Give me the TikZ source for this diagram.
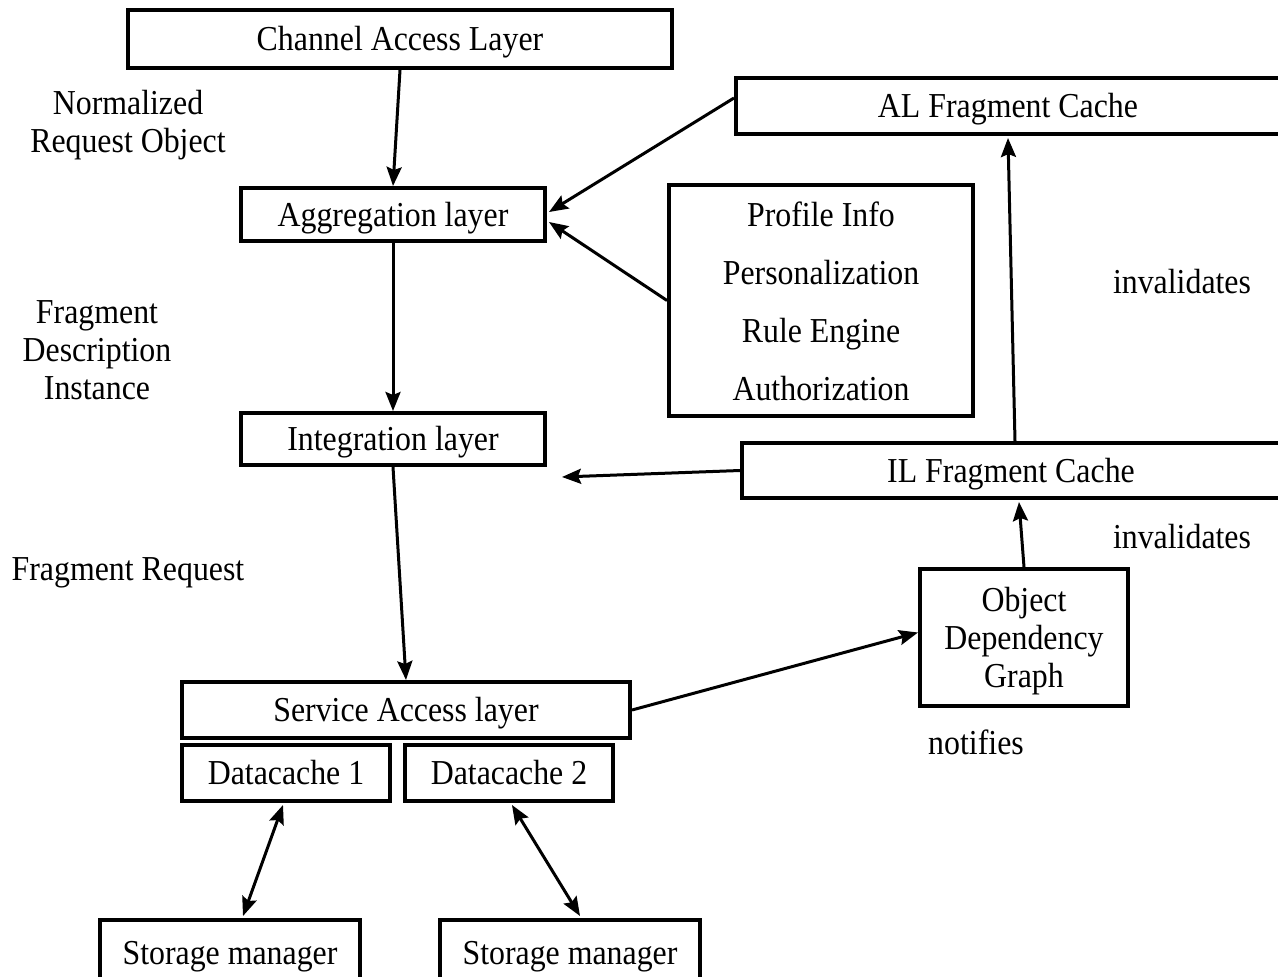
\documentclass[tikz,border=0pt]{standalone}
\usepackage{fontspec}
\setmainfont{Liberation Serif}[FakeStretch=0.91]
\usetikzlibrary{arrows.meta,calc}

\tikzset{
  box/.style={draw, line width=4pt, rectangle, inner sep=0pt, align=center},
  one/.style={text height=30pt, text depth=7pt},
  lbl/.style={inner sep=0pt, align=center},
  tip/.tip={Stealth[length=19pt,width=15pt,inset=3pt]},
  conn/.style={line width=3pt, -tip},
  both/.style={line width=3pt, tip-tip},
}

\begin{document}
\begin{tikzpicture}[x=1pt, y=-1pt, font=\fontsize{35}{38}\selectfont]
  \clip (0,0) rectangle (1278,977);
  \fill[white] (0,0) rectangle (1278,977);

  % left column of layers
  \node[box, one, minimum width=544pt, minimum height=58pt] (chan) at (400,39) {Channel Access Layer};
  \node[box, one, minimum width=304pt, minimum height=53pt] (agg) at (393,214.5) {Aggregation layer};
  \node[box, one, minimum width=304pt, minimum height=52pt] (integ) at (393,439) {Integration layer};
  \node[box, one, minimum width=448pt, minimum height=56pt] (sal) at (406,710) {Service Access layer};
  \node[box, one, minimum width=208pt, minimum height=56pt] (dc1) at (286,773) {Datacache 1};
  \node[box, one, minimum width=208pt, minimum height=56pt] (dc2) at (509,773) {Datacache 2};
  \node[box, one, minimum width=260pt, minimum height=66pt] (sm1) at (230,953) {Storage manager};
  \node[box, one, minimum width=260pt, minimum height=66pt] (sm2) at (570,953) {Storage manager};

  % flow labels
  \node[lbl] (lnorm) at (128,125.5) {Normalized\\Request Object};
  \node[lbl] (lfdi) at (97,350) {Fragment\\Description\\Instance};
  \node[lbl, one] (lreq) at (128,569) {Fragment Request};

  % caches and services on the right
  \node[box, one, minimum width=544pt, minimum height=56pt] (al) at (1008,106) {AL Fragment Cache};
  \node[box, minimum width=304pt, minimum height=231pt, font=\fontsize{35}{58}\selectfont] (prof) at (821,300.5)
    {\rule{0pt}{26pt}Profile Info\\Personalization\\Rule Engine\\Authorization};
  \node[box, one, minimum width=538pt, minimum height=55pt] (il) at (1011,470.5) {IL Fragment Cache};
  \node[box, minimum width=208pt, minimum height=137pt] (odg) at (1024,637.5)
    {\rule{0pt}{31pt}Object\\Dependency\\Graph};

  \node[lbl, one] (inv1) at (1182,282) {invalidates};
  \node[lbl, one] (inv2) at (1182,537) {invalidates};
  \node[lbl, one] (notif) at (976,743) {notifies};

  \coordinate (ilend) at (562,477);

  % connectors
  \draw[conn] (chan.south) -- (agg.north);
  \draw[conn] ($(al.west)+(0,-8)$) -- ($(agg.east)+(2,-2.5)$);
  \draw[conn] (prof.west) -- ($(agg.east)+(2,7.5)$);
  \draw[conn] (agg.south) -- (integ.north);
  \draw[conn] (il.west) -- (ilend);
  \draw[conn] (integ.south) -- (sal.north);
  \draw[conn] ($(il.north)+(4,0)$) -- ($(al.south)+(0,2)$);
  \draw[conn] (odg.north) -- ($(il.south)+(8,2)$);
  \draw[conn] (sal.east) -- ($(odg.west)+(0,-5)$);
  \draw[both] ($(dc1.south)+(-3,2)$) -- ($(sm1.north)+(13,-2)$);
  \draw[both] ($(dc2.south)+(3,2)$) -- ($(sm2.north)+(10,-2)$);
\end{tikzpicture}
\end{document}
